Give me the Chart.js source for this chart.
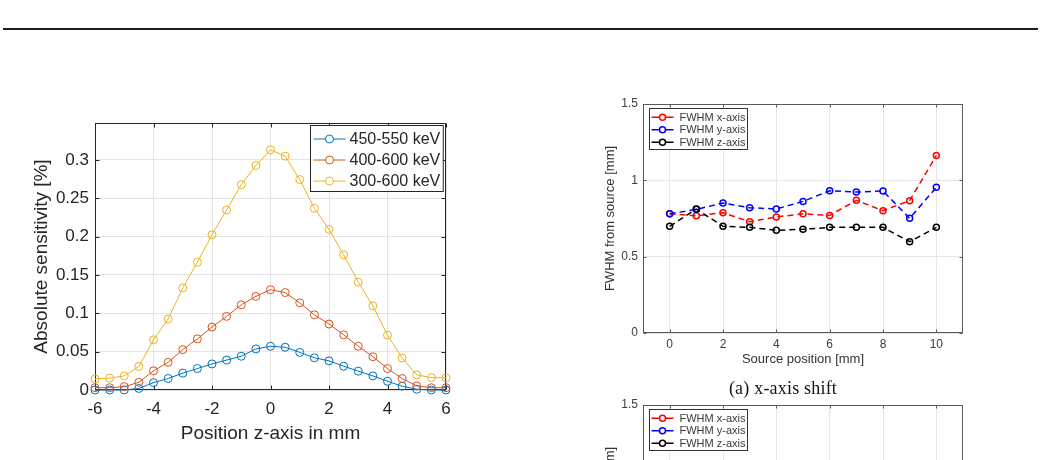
<!DOCTYPE html>
<html>
<head>
<meta charset="utf-8">
<script src="https://cdn.jsdelivr.net/npm/chart.js@4.4.1/dist/chart.umd.min.js"></script>
<style>
    html, body { margin: 0; padding: 0; background: #fff; overflow: hidden; }
    #page { position: relative; width: 1042px; height: 460px; overflow: hidden; }
    .rule { position: absolute; left: 3px; top: 28px; width: 1035px; height: 1.5px; background: #1e1e1e; }
    canvas { position: absolute; }
    .caption {
        position: absolute; left: 683px; top: 377px; width: 200px; text-align: center;
        font-family: "Liberation Serif", "Times New Roman", serif; font-size: 18px; line-height: 22px;
        letter-spacing: 0.2px; color: #151515;
    }
</style>
</head>
<body>
<div id="page">
    <div class="rule"></div>
    <canvas id="sensChart" width="470" height="360" style="left:0;top:100px;width:470px;height:360px"></canvas>
    <canvas id="fwhmXChart" width="420" height="290" style="left:560px;top:90px;width:420px;height:290px"></canvas>
    <div class="caption">(a) x-axis shift</div>
    <canvas id="fwhmYChart" width="420" height="290" style="left:560px;top:391px;width:420px;height:290px"></canvas>
</div>
<script>
// left plot: sensitivity along z
const zPositions = [-6, -5.5, -5, -4.5, -4, -3.5, -3, -2.5, -2, -1.5, -1, -0.5, 0, 0.5, 1, 1.5, 2, 2.5, 3, 3.5, 4, 4.5, 5, 5.5, 6];
const sens450to550 = [0, 0, 0, 0.002, 0.0096, 0.015, 0.022, 0.028, 0.034, 0.039, 0.044, 0.0535, 0.057, 0.0557, 0.049, 0.042, 0.038, 0.031, 0.0246, 0.0184, 0.0114, 0.005, 0.001, 0, 0];
const sens400to600 = [0.003, 0.003, 0.0044, 0.010, 0.025, 0.036, 0.0526, 0.0667, 0.082, 0.096, 0.111, 0.122, 0.1307, 0.127, 0.1136, 0.098, 0.086, 0.0719, 0.057, 0.0434, 0.028, 0.0149, 0.0053, 0.003, 0.003];
const sens300to600 = [0.0145, 0.0154, 0.0184, 0.0307, 0.0654, 0.0925, 0.133, 0.1666, 0.2023, 0.2346, 0.2677, 0.2926, 0.313, 0.3048, 0.2743, 0.2368, 0.2093, 0.1762, 0.1406, 0.1096, 0.0715, 0.0417, 0.0197, 0.0162, 0.0158];
const zTicks = [-6, -4, -2, 0, 2, 4, 6];
const sensTicks = [0, 0.05, 0.1, 0.15, 0.2, 0.25, 0.3];

// right plots: FWHM vs source position
const sourcePositions = [0, 1, 2, 3, 4, 5, 6, 7, 8, 9, 10];
const fwhmXaxis = [0.781, 0.768, 0.788, 0.729, 0.760, 0.781, 0.770, 0.869, 0.801, 0.867, 1.163];
const fwhmYaxis = [0.781, 0.810, 0.851, 0.821, 0.812, 0.862, 0.932, 0.923, 0.930, 0.751, 0.954];
const fwhmZaxis = [0.699, 0.812, 0.699, 0.692, 0.673, 0.679, 0.692, 0.692, 0.692, 0.598, 0.692];
const sourceTicks = [0, 2, 4, 6, 8, 10];
const fwhmTicks = [0, 0.5, 1, 1.5];
const fwhmLabels = ['FWHM x-axis', 'FWHM y-axis', 'FWHM z-axis'];
// (b) plot is cut off by the page frame, its points are not visible
const fwhmShiftB = [[], [], []];

const FONT = '"Liberation Sans", Arial, Helvetica, sans-serif';

const fmt = (v) => String(Math.round(v * 100) / 100);
const toPoints = (xs, ys) => ys.map((y, i) => ({ x: xs[i], y: y }));

// matlab style box with inward ticks
const matlabBox = {
    id: 'matlabBox',
    beforeDatasetsDraw(chart, args, opts) {
        const { ctx, chartArea, scales } = chart;
        const l = Math.round(chartArea.left) + 0.5;
        const t = Math.round(chartArea.top) + 0.5;
        const r = Math.round(chartArea.right) - 0.5;
        const b = Math.round(chartArea.bottom) - 0.5;
        const tl = opts.tickLen;
        ctx.save();
        ctx.strokeStyle = opts.color;
        ctx.lineWidth = 1;
        ctx.beginPath();
        scales.x.ticks.forEach(tk => {
            const px = Math.round(scales.x.getPixelForValue(tk.value)) + 0.5;
            ctx.moveTo(px, b); ctx.lineTo(px, b - tl);
            ctx.moveTo(px, t); ctx.lineTo(px, t + tl);
        });
        scales.y.ticks.forEach(tk => {
            const py = Math.round(scales.y.getPixelForValue(tk.value)) + 0.5;
            ctx.moveTo(l, py); ctx.lineTo(l + tl, py);
            ctx.moveTo(r, py); ctx.lineTo(r - tl, py);
        });
        ctx.stroke();
        ctx.lineWidth = opts.width;
        ctx.strokeRect(l, t, r - l, b - t);
        ctx.restore();
    }
};

// legend box drawn inside the axes, like matlab
const boxLegend = {
    id: 'boxLegend',
    afterDraw(chart, args, opts) {
        const { ctx, chartArea } = chart;
        const sets = chart.data.datasets;
        ctx.save();
        ctx.font = `${opts.fontSize}px ${FONT}`;
        const textW = Math.max(...sets.map(d => ctx.measureText(d.label).width));
        const w = opts.textStart + textW + opts.padRight;
        const h = opts.padTop + opts.rowH * (sets.length - 1) + opts.padBottom;
        const left = Math.round(opts.corner === 'right' ? chartArea.right - opts.inset[0] - w : chartArea.left + opts.inset[0]) + 0.5;
        const top = Math.round(chartArea.top + opts.inset[1]) + 0.5;
        ctx.fillStyle = '#fff';
        ctx.fillRect(left, top, w, h);
        ctx.strokeStyle = opts.borderColor;
        ctx.lineWidth = 1;
        ctx.strokeRect(left, top, w, h);
        sets.forEach((d, i) => {
            const y = top + opts.padTop + i * opts.rowH;
            const x0 = left + opts.lineStart;
            const x1 = x0 + opts.lineLen;
            ctx.strokeStyle = d.borderColor;
            ctx.lineWidth = d.borderWidth;
            ctx.setLineDash(opts.dash || []);
            ctx.beginPath();
            ctx.moveTo(x0, y);
            ctx.lineTo(x1, y);
            ctx.stroke();
            ctx.setLineDash([]);
            ctx.lineWidth = d.pointBorderWidth;
            ctx.beginPath();
            ctx.arc((x0 + x1) / 2, y, d.pointRadius, 0, Math.PI * 2);
            ctx.fillStyle = '#fff';
            ctx.fill();
            ctx.stroke();
            ctx.fillStyle = opts.color;
            ctx.textBaseline = 'middle';
            ctx.fillText(d.label, left + opts.textStart, y + 0.5);
        });
        ctx.restore();
    }
};

const sensSet = (label, values, color, order) => ({
    label: label,
    data: toPoints(zPositions, values),
    borderColor: color,
    backgroundColor: color,
    borderWidth: 1,
    pointStyle: 'circle',
    pointRadius: 4,
    pointBorderWidth: 1,
    pointBackgroundColor: 'rgba(0,0,0,0)',
    pointBorderColor: color,
    tension: 0,
    clip: false,
    order: order
});

new Chart(document.getElementById('sensChart'), {
    type: 'line',
    data: {
        datasets: [
            sensSet('450-550 keV', sens450to550, '#0072BD', 3),
            sensSet('400-600 keV', sens400to600, '#D95319', 2),
            sensSet('300-600 keV', sens300to600, '#EDB120', 1)
        ]
    },
    options: {
        responsive: false,
        animation: false,
        events: [],
        layout: { padding: { top: 23, right: 24, left: 0, bottom: 0 } },
        plugins: {
            legend: { display: false },
            tooltip: { enabled: false },
            matlabBox: { color: '#262626', width: 1, tickLen: 4 },
            boxLegend: {
                corner: 'right', inset: [3, 2], fontSize: 16, color: '#262626', borderColor: '#262626',
                padTop: 13.5, rowH: 21, padBottom: 10.5, lineStart: 3, lineLen: 32, textStart: 39, padRight: 3
            }
        },
        scales: {
            x: {
                type: 'linear',
                min: -6,
                max: 6,
                afterBuildTicks: (s) => { s.ticks = zTicks.map(v => ({ value: v })); },
                afterFit: (s) => { s.height = 70; },
                grid: { color: '#e4e4e4', drawTicks: false },
                border: { display: false },
                ticks: { padding: 9, color: '#262626', font: { family: FONT, size: 17 }, callback: fmt, maxRotation: 0 },
                title: {
                    display: true, text: 'Position z-axis in mm', color: '#262626',
                    font: { family: FONT, size: 19 }, padding: { top: 0, bottom: 14.6 }
                }
            },
            y: {
                type: 'linear',
                min: 0,
                max: 0.348,
                afterBuildTicks: (s) => { s.ticks = sensTicks.map(v => ({ value: v })); },
                afterFit: (s) => { s.width = 95; },
                grid: { color: '#e4e4e4', drawTicks: false },
                border: { display: false },
                ticks: { padding: 6, color: '#262626', font: { family: FONT, size: 17 }, callback: fmt },
                title: {
                    display: true, text: 'Absolute sensitivity [%]', color: '#262626',
                    font: { family: FONT, size: 19 }, padding: { top: 30, bottom: 0 }
                }
            }
        }
    },
    plugins: [matlabBox, boxLegend]
});

const fwhmSet = (label, values, color, order) => ({
    label: label,
    data: toPoints(sourcePositions, values),
    borderColor: color,
    backgroundColor: color,
    borderWidth: 1.5,
    borderDash: [6, 4],
    pointStyle: 'circle',
    pointRadius: 3,
    pointBorderWidth: 1.5,
    pointBackgroundColor: 'rgba(0,0,0,0)',
    pointBorderColor: color,
    tension: 0,
    clip: false,
    order: order
});

const fwhmOptions = (yTitle) => ({
    responsive: false,
    animation: false,
    events: [],
    layout: { padding: { top: 14, right: 17, left: 0, bottom: 0 } },
    plugins: {
        legend: { display: false },
        tooltip: { enabled: false },
        matlabBox: { color: '#5a5a5a', width: 1, tickLen: 3 },
        boxLegend: {
            corner: 'left', inset: [6, 4], fontSize: 11, color: '#3a3a3a', borderColor: '#333',
            padTop: 8.7, rowH: 12.5, padBottom: 7.3, lineStart: 2, lineLen: 22, textStart: 30, padRight: 2,
            dash: [8, 6]
        }
    },
    scales: {
        x: {
            type: 'linear',
            min: -1,
            max: 11,
            afterBuildTicks: (s) => { s.ticks = sourceTicks.map(v => ({ value: v })); },
            afterFit: (s) => { s.height = 47; },
            grid: { color: '#e6e6e6', drawTicks: false },
            border: { display: false },
            ticks: { padding: 4, color: '#404040', font: { family: FONT, size: 12 }, callback: fmt, maxRotation: 0 },
            title: {
                display: true, text: 'Source position [mm]', color: '#333',
                font: { family: FONT, size: 13 }, padding: { top: 0, bottom: 13 }
            }
        },
        y: {
            type: 'linear',
            min: 0,
            max: 1.5,
            afterBuildTicks: (s) => { s.ticks = fwhmTicks.map(v => ({ value: v })); },
            afterFit: (s) => { s.width = 83; },
            grid: { color: '#e6e6e6', drawTicks: false },
            border: { display: false },
            ticks: { padding: 5, color: '#404040', font: { family: FONT, size: 12 }, callback: fmt },
            title: {
                display: true, text: yTitle, color: '#333',
                font: { family: FONT, size: 13 }, padding: { top: 43, bottom: 0 }
            }
        }
    }
});

new Chart(document.getElementById('fwhmXChart'), {
    type: 'line',
    data: {
        datasets: [
            fwhmSet(fwhmLabels[0], fwhmXaxis, '#ff0000', 3),
            fwhmSet(fwhmLabels[1], fwhmYaxis, '#0000ff', 2),
            fwhmSet(fwhmLabels[2], fwhmZaxis, '#000000', 1)
        ]
    },
    options: fwhmOptions('FWHM from source [mm]'),
    plugins: [matlabBox, boxLegend]
});

new Chart(document.getElementById('fwhmYChart'), {
    type: 'line',
    data: {
        datasets: [
            fwhmSet(fwhmLabels[0], fwhmShiftB[0], '#ff0000', 3),
            fwhmSet(fwhmLabels[1], fwhmShiftB[1], '#0000ff', 2),
            fwhmSet(fwhmLabels[2], fwhmShiftB[2], '#000000', 1)
        ]
    },
    options: fwhmOptions('FWHM from source [mm]'),
    plugins: [matlabBox, boxLegend]
});
</script>
</body>
</html>
